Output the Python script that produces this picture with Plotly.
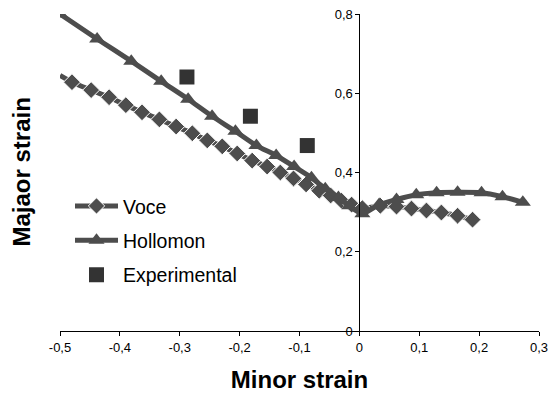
import plotly.graph_objects as go

# ---- data ----
voce_x = [-0.500, -0.480, -0.448, -0.418, -0.390, -0.363, -0.334, -0.306, -0.279, -0.254,
          -0.229, -0.204, -0.179, -0.154, -0.132, -0.110, -0.089, -0.067, -0.048, -0.030,
          -0.013, 0.005, 0.035, 0.062, 0.087, 0.112, 0.137, 0.164, 0.189]
voce_y = [0.645, 0.628, 0.608, 0.590, 0.570, 0.552, 0.534, 0.516, 0.499, 0.481,
          0.466, 0.448, 0.430, 0.415, 0.400, 0.385, 0.370, 0.354, 0.342, 0.329,
          0.319, 0.310, 0.316, 0.314, 0.309, 0.304, 0.299, 0.291, 0.281]

hollomon_x = [-0.500, -0.438, -0.381, -0.331, -0.286, -0.246, -0.207, -0.172, -0.139,
              -0.109, -0.080, -0.057, -0.035, -0.017, 0.005, 0.033, 0.062, 0.095,
              0.129, 0.164, 0.204, 0.239, 0.273]
hollomon_y = [0.800, 0.737, 0.681, 0.630, 0.585, 0.542, 0.504, 0.468, 0.443,
              0.415, 0.387, 0.359, 0.337, 0.316, 0.296, 0.319, 0.332, 0.344,
              0.349, 0.350, 0.349, 0.339, 0.325]

exp_x = [-0.288, -0.182, -0.087]
exp_y = [0.641, 0.542, 0.468]

x_tick_vals = [-0.5, -0.4, -0.3, -0.2, -0.1, 0, 0.1, 0.2, 0.3]
x_tick_text = ["-0,5", "-0,4", "-0,3", "-0,2", "-0,1", "0", "0,1", "0,2", "0,3"]
y_tick_vals = [0, 0.2, 0.4, 0.6, 0.8]
y_tick_text = ["0", "0,2", "0,4", "0,6", "0,8"]

LINE = "#4d4d4d"
SQ = "#333333"
FONT = "Liberation Sans, Arial, sans-serif"

fig = go.Figure()

voce_sizes = [0] + [13] * (len(voce_x) - 1)
fig.add_trace(go.Scatter(
    x=voce_x, y=voce_y, name="Voce", mode="lines+markers",
    line=dict(color=LINE, width=5, shape="spline", smoothing=0.6),
    marker=dict(symbol="diamond", size=voce_sizes, color=LINE, opacity=1),
    legendgroup="a",
))
fig.add_trace(go.Scatter(
    x=hollomon_x, y=hollomon_y, name="Hollomon", mode="lines+markers",
    line=dict(color=LINE, width=5, shape="spline", smoothing=0.6),
    marker=dict(symbol="triangle-up", size=14, color=LINE, opacity=1),
    legendgroup="b",
))
fig.add_trace(go.Scatter(
    x=exp_x, y=exp_y, name="Experimental", mode="markers",
    marker=dict(symbol="square", size=15, color=SQ, opacity=1),
    legendgroup="c",
))

plot_l, plot_r = 60, 17
plot_w = 556 - plot_l - plot_r
y_axis_pos = (0 - (-0.5)) / (0.3 - (-0.5))

fig.update_layout(
    width=556, height=400,
    margin=dict(l=plot_l, r=plot_r, t=14, b=69),
    paper_bgcolor="white", plot_bgcolor="white",
    font=dict(family=FONT, color="black", size=13),
    showlegend=True,
    legend=dict(
        x=10 / plot_w, y=0.455, xanchor="left", yanchor="top",
        font=dict(size=19.5, family=FONT, color="black"),
        bgcolor="rgba(0,0,0,0)", tracegroupgap=6,
        itemwidth=43,
    ),
    xaxis=dict(
        range=[-0.5, 0.3], tickvals=x_tick_vals, ticktext=x_tick_text,
        showgrid=False, zeroline=False, showline=True, linecolor="black", linewidth=1,
        ticks="outside", ticklen=4, tickcolor="black", automargin=False,
        tickfont=dict(size=13),
        title=dict(text="<b>Minor strain</b>", font=dict(size=24, family=FONT), standoff=17),
    ),
    yaxis=dict(
        range=[0, 0.8], tickvals=y_tick_vals, ticktext=y_tick_text,
        showgrid=False, zeroline=False, showline=True, linecolor="black", linewidth=1,
        ticks="outside", ticklen=4, tickcolor="black", automargin=False,
        tickfont=dict(size=13),
        anchor="free", position=y_axis_pos,
    ),
    annotations=[dict(
        text="<b>Majaor strain</b>", xref="paper", yref="paper",
        x=-39 / plot_w, y=0.5, xanchor="center", yanchor="middle",
        textangle=-90, showarrow=False, font=dict(size=24, family=FONT, color="black"),
    )],
)

fig.write_html("out.html", config={"displayModeBar": False},
               post_script="document.body.style.margin='0';")
